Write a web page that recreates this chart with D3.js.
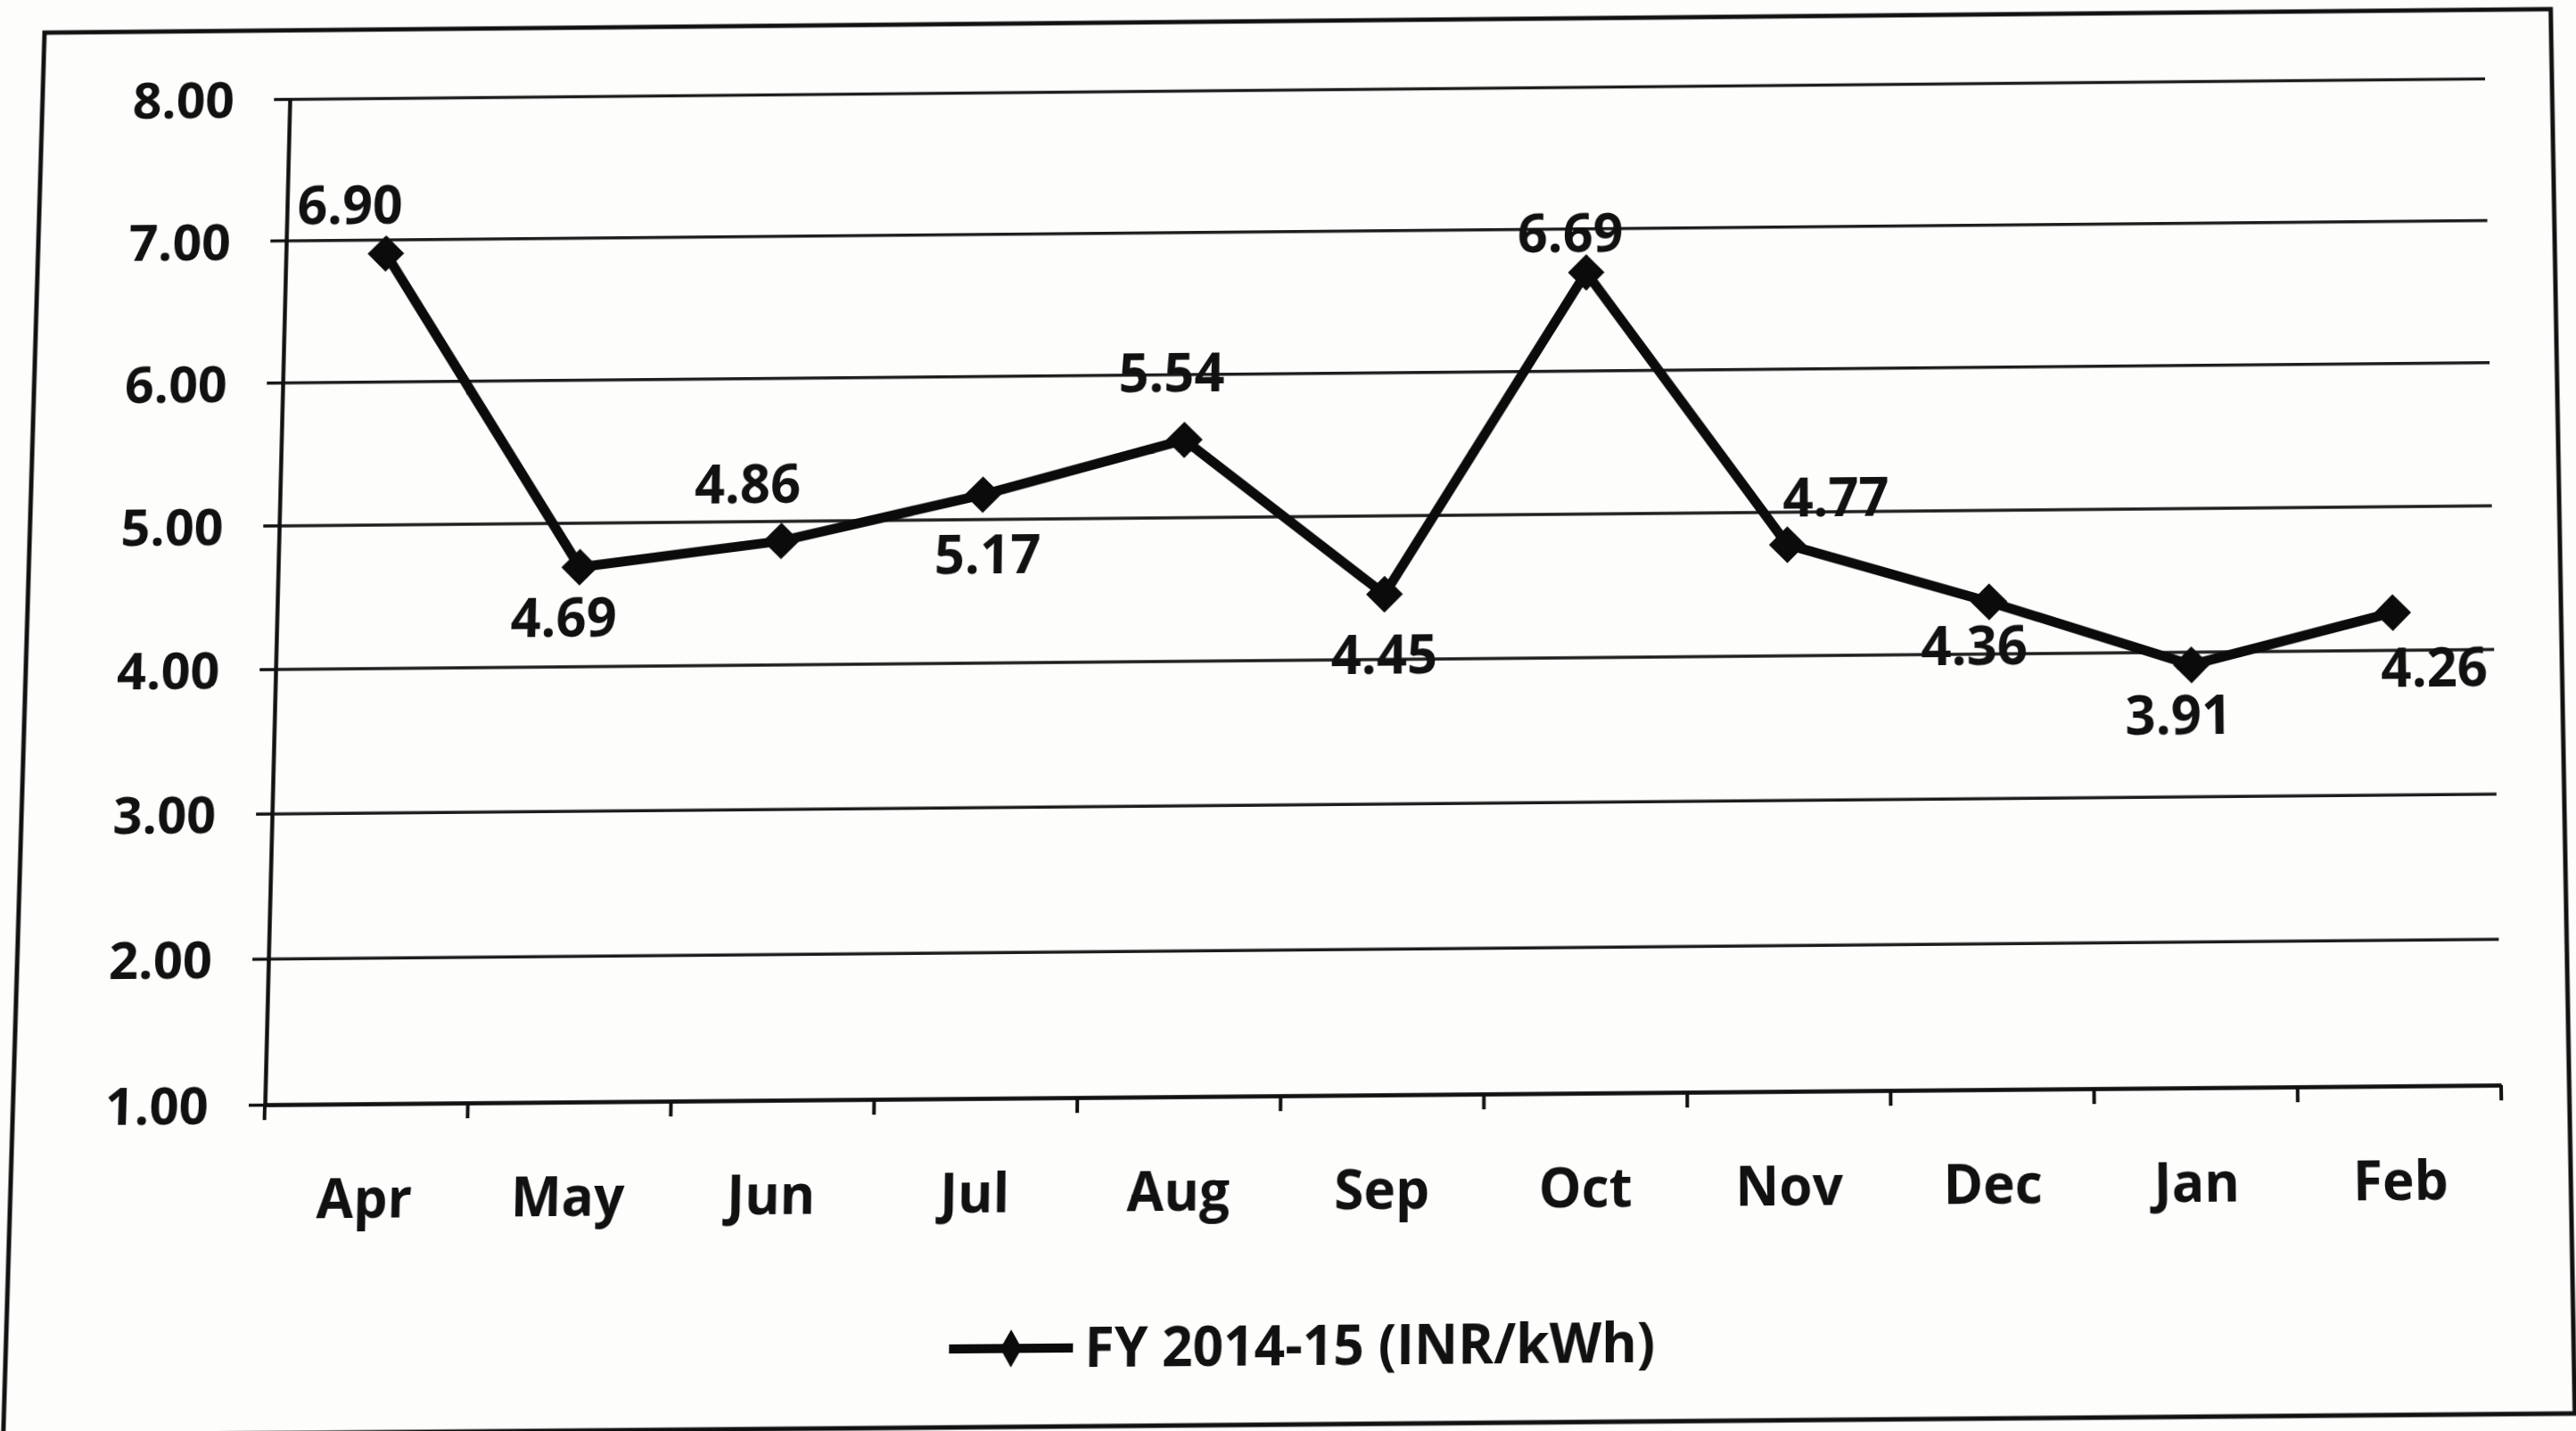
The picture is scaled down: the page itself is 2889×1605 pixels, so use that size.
<!DOCTYPE html>
<html>
<head>
<meta charset="utf-8">
<script src="https://cdn.jsdelivr.net/npm/d3@7"></script>
<style>
  html, body { margin: 0; padding: 0; background: #fdfdfc; overflow: hidden; }
  #chart { position: absolute; left: 0; top: 0; transform-origin: 0 0; }
  text { font-family: "Open Sans", "Liberation Sans", sans-serif; font-weight: 700; fill: #111; }
</style>
</head>
<body>
<svg id="chart" width="2889" height="1605"></svg>
<script>
// data
const months = ['Apr', 'May', 'Jun', 'Jul', 'Aug', 'Sep', 'Oct', 'Nov', 'Dec', 'Jan', 'Feb'];
const tariff = [6.90, 4.69, 4.86, 5.17, 5.54, 4.45, 6.69, 4.77, 4.36, 3.91, 4.26];
const yTicks = [1, 2, 3, 4, 5, 6, 7, 8];
const seriesName = 'FY 2014-15 (INR/kWh)';

// where each value label sits relative to its point (layout only)
const labelOffsets = [[-42, -55], [-17, 57], [-39, -64], [6, 68], [-15, -76], [0, 68],
                      [-18, -44], [55, -53], [-17, 50], [-15, 57], [46, 63]];

const W = 2889, H = 1605;
const L = 300, R = 2800, T = 95, B = 1230;

const svg = d3.select('#chart');

// paper + outer frame
svg.append('rect').attr('width', W).attr('height', H).attr('fill', '#fdfdfc');
svg.append('rect')
    .attr('x', 18).attr('y', 16).attr('width', 2858).attr('height', 1576)
    .attr('fill', 'none').attr('stroke', '#111').attr('stroke-width', 5);

const x = d3.scaleBand().domain(months).range([L, R]);
const y = d3.scaleLinear().domain([1, 8]).range([B, T]);

// gridlines
const grid = svg.append('g')
    .attr('transform', `translate(${L},0)`)
    .call(d3.axisLeft(y).tickValues(yTicks).tickSize(-(R - L)).tickFormat(''));
grid.select('.domain').remove();
grid.selectAll('line').attr('stroke', '#1c1c1c').attr('stroke-width', 3.5);

// y axis
const yAxis = svg.append('g')
    .attr('transform', `translate(${L},0)`)
    .call(d3.axisLeft(y).tickValues(yTicks).tickSize(18).tickSizeOuter(0)
        .tickPadding(45).tickFormat(d3.format('.2f')));
yAxis.select('.domain').attr('stroke', '#111').attr('stroke-width', 4.5);
yAxis.selectAll('line').attr('stroke', '#111').attr('stroke-width', 3.5);
yAxis.selectAll('text').attr('font-size', 58).attr('dy', '0.36em')
    .style('font-family', '"Open Sans", sans-serif').style('font-weight', 700).attr('fill', '#111');

// x axis: labels centred in bands, ticks on band edges
const xAxis = svg.append('g')
    .attr('transform', `translate(0,${B})`)
    .call(d3.axisBottom(x).tickSize(0).tickSizeOuter(0));
xAxis.select('.domain').attr('stroke', '#111').attr('stroke-width', 4.5);
xAxis.selectAll('text').attr('font-size', 60).attr('y', 126).attr('dy', 0)
    .style('font-family', '"Open Sans", sans-serif').style('font-weight', 700).attr('fill', '#111');
xAxis.selectAll('.edge')
    .data(d3.range(months.length + 1))
    .enter().append('line')
    .attr('class', 'edge')
    .attr('x1', i => L + i * x.step()).attr('x2', i => L + i * x.step())
    .attr('y1', 0).attr('y2', 17)
    .attr('stroke', '#111').attr('stroke-width', 4);

// series line
const pts = months.map((m, i) => ({ m, v: tariff[i], i }));
svg.append('path')
    .datum(pts)
    .attr('fill', 'none')
    .attr('stroke', '#0b0b0b')
    .attr('stroke-width', 11)
    .attr('stroke-linejoin', 'round')
    .attr('d', d3.line().x(d => x(d.m) + x.bandwidth() / 2).y(d => y(d.v)));

// diamond markers
const diamond = d3.symbol().type(d3.symbolSquare).size(860);
svg.append('g').selectAll('path')
    .data(pts)
    .enter().append('path')
    .attr('d', diamond)
    .attr('fill', '#0b0b0b')
    .attr('transform', d => `translate(${x(d.m) + x.bandwidth() / 2},${y(d.v)}) rotate(45)`);

// value labels
svg.append('g').selectAll('text')
    .data(pts)
    .enter().append('text')
    .attr('x', d => x(d.m) + x.bandwidth() / 2 + labelOffsets[d.i][0])
    .attr('y', d => y(d.v) + labelOffsets[d.i][1] + 21)
    .attr('text-anchor', 'middle')
    .attr('font-size', 60)
    .text(d => d.v.toFixed(2));

// legend
const lg = svg.append('g').attr('transform', 'translate(1069,1506)');
lg.append('line').attr('x1', 0).attr('x2', 138).attr('y1', 0).attr('y2', 0)
    .attr('stroke', '#0b0b0b').attr('stroke-width', 10);
lg.append('path')
    .attr('d', d3.symbol().type(d3.symbolDiamond).size(500))
    .attr('transform', 'translate(69,0)')
    .attr('fill', '#0b0b0b');
lg.append('text').attr('x', 151).attr('y', 21).attr('font-size', 60).text(seriesName);

// the reference is a photo of a printed page: map the plot corners onto
// where they land in the photo with a projective transform
function homography(src, dst) {
    const A = [], b = [];
    for (let i = 0; i < 4; i++) {
        const [sx, sy] = src[i], [X, Y] = dst[i];
        A.push([sx, sy, 1, 0, 0, 0, -sx * X, -sy * X]); b.push(X);
        A.push([0, 0, 0, sx, sy, 1, -sx * Y, -sy * Y]); b.push(Y);
    }
    const n = 8;
    for (let c = 0; c < n; c++) {
        let p = c;
        for (let r = c + 1; r < n; r++) if (Math.abs(A[r][c]) > Math.abs(A[p][c])) p = r;
        [A[c], A[p]] = [A[p], A[c]];
        [b[c], b[p]] = [b[p], b[c]];
        for (let r = 0; r < n; r++) {
            if (r === c) continue;
            const f = A[r][c] / A[c][c];
            for (let k = c; k < n; k++) A[r][k] -= f * A[c][k];
            b[r] -= f * b[c];
        }
    }
    return b.map((v, i) => v / A[i][i]);
}

// the page sags a little in the middle, so the corners are nudged down a bit
const h = homography(
    [[L, T], [R, T], [L, B], [R, B]],
    [[325, 111], [2787, 88], [297, 1239], [2805, 1217]]
);
const m3d = [h[0], h[3], 0, h[6], h[1], h[4], 0, h[7], 0, 0, 1, 0, h[2], h[5], 0, 1];
document.getElementById('chart').style.transform = `matrix3d(${m3d.join(',')})`;
</script>
</body>
</html>
